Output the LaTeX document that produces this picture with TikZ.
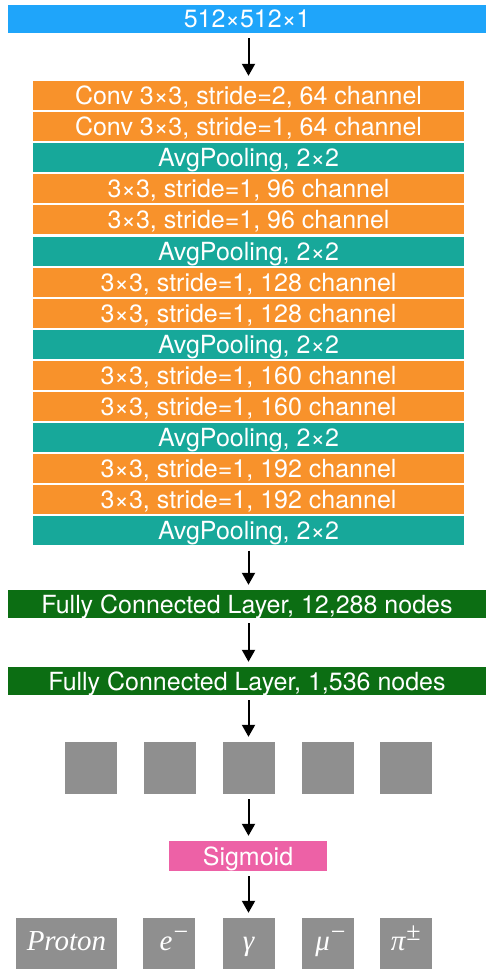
\documentclass[tikz,border=0pt]{standalone}
\usepackage{fontspec}
\setmainfont{TeX Gyre Heros}
\newfontfamily\tms{Liberation Serif}
\newcommand{\mysupr}[1]{\raisebox{10pt}{\fontsize{26}{26}\selectfont\upshape\kern1pt #1}}
\usetikzlibrary{arrows.meta}
\definecolor{cblue}{HTML}{1FA5FA}
\definecolor{corange}{HTML}{F8922B}
\definecolor{cteal}{HTML}{17A89A}
\definecolor{cgreen}{HTML}{0C6E13}
\definecolor{cpink}{HTML}{ED61A6}
\definecolor{cgray}{HTML}{8F8F8F}
\begin{document}
\begin{tikzpicture}[x=1pt,y=-1pt,
  box/.style={rectangle, inner sep=0pt, text=white, font=\fontsize{25}{27}\selectfont, text height=18pt, text depth=0pt},
  layer/.style={box, minimum width=431pt, minimum height=29pt},
  conv/.style={layer, fill=corange},
  pool/.style={layer, fill=cteal},
  wide/.style={box, minimum width=478pt, minimum height=28pt},
  sq/.style={rectangle, fill=cgray, minimum width=52pt, minimum height=52pt, inner sep=0pt},
  outb/.style={sq, minimum height=51pt, text=white, font=\fontsize{29}{31}\selectfont\tms\itshape, text height=13pt, text depth=0pt},
  arr/.style={line width=2pt, -{Triangle[length=12pt,width=13pt]}, shorten <=5pt, shorten >=5pt}
]
\useasboundingbox (0,0) rectangle (486,971);
\node[wide, fill=cblue] (in) at (247,19) {512×512×1};
\node[conv] (r0) at (248.5,95.5) {Conv 3×3, stride=2, 64 channel};
\node[conv] (r1) at (248.5,126.6) {Conv 3×3, stride=1, 64 channel};
\node[pool] (r2) at (248.5,157.7) {AvgPooling, 2×2};
\node[conv] (r3) at (248.5,188.8) {3×3, stride=1, 96 channel};
\node[conv] (r4) at (248.5,219.9) {3×3, stride=1, 96 channel};
\node[pool] (r5) at (248.5,251.0) {AvgPooling, 2×2};
\node[conv] (r6) at (248.5,282.1) {3×3, stride=1, 128 channel};
\node[conv] (r7) at (248.5,313.2) {3×3, stride=1, 128 channel};
\node[pool] (r8) at (248.5,344.3) {AvgPooling, 2×2};
\node[conv] (r9) at (248.5,375.4) {3×3, stride=1, 160 channel};
\node[conv] (r10) at (248.5,406.5) {3×3, stride=1, 160 channel};
\node[pool] (r11) at (248.5,437.6) {AvgPooling, 2×2};
\node[conv] (r12) at (248.5,468.7) {3×3, stride=1, 192 channel};
\node[conv] (r13) at (248.5,499.8) {3×3, stride=1, 192 channel};
\node[pool] (r14) at (248.5,530.9) {AvgPooling, 2×2};
\node[wide, fill=cgreen] (fc1) at (247,604) {Fully Connected Layer, 12,288 nodes};
\node[wide, fill=cgreen] (fc2) at (247,681) {Fully Connected Layer, 1,536 nodes};
\node[sq] (s1) at (91,768) {};
\node[sq] (s2) at (170,768) {};
\node[sq] (s3) at (248.5,768) {};
\node[sq] (s4) at (328,768) {};
\node[sq] (s5) at (405.5,768) {};
\node[box, fill=cpink, minimum width=158pt, minimum height=30pt] (sig) at (248,856) {Sigmoid};
\node[outb, minimum width=101pt] (o1) at (66.5,943.5) {Proton};
\node[outb] (o2) at (169,943.5) {\hspace*{10pt}e\mysupr{−}};
\node[outb] (o3) at (248.5,943.5) {γ};
\node[outb] (o4) at (327.5,943.5) {\hspace*{6pt}μ\mysupr{−}};
\node[outb] (o5) at (405.8,943.5) {π\mysupr{±}};
\draw[arr] (in.south -| r0.north) -- (r0.north);
\draw[arr] (r14) -- (fc1.north -| r14.south);
\draw[arr] (fc1.south -| s3.north) -- (fc2.north -| s3.north);
\draw[arr] (fc2.south -| s3.north) -- (s3.north);
\draw[arr] (s3) -- (sig.north -| s3.south);
\draw[arr] (sig.south -| o3.north) -- (o3.north);
\end{tikzpicture}
\end{document}
